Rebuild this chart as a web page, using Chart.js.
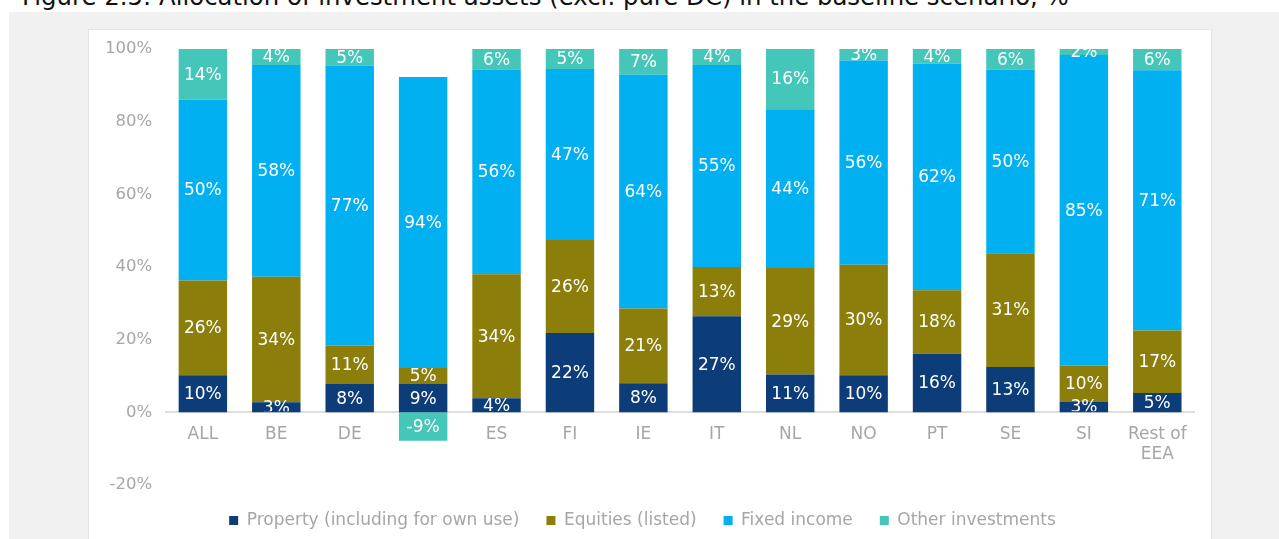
<!DOCTYPE html>
<html>
<head>
<meta charset="utf-8">
<script src="https://cdn.jsdelivr.net/npm/chart.js@4/dist/chart.umd.min.js"></script>
<style>
    html, body { margin: 0; padding: 0; width: 1279px; height: 539px; overflow: hidden; background: #fff; }
    #title { position: absolute; left: 22px; top: -17px; font: 24.4px 'DejaVu Sans', Verdana, sans-serif; color: #111; white-space: nowrap; line-height: 28px; }
    #panel { position: absolute; left: 9px; top: 12px; width: 1270px; height: 527px; background: #f1f1f1; }
    #box { position: absolute; left: 88px; top: 29px; width: 1124px; height: 526px; background: #fff; box-sizing: border-box; border: 1px solid #e6e6e6; }
    #chart { position: absolute; left: 88px; top: 25px; }
</style>
</head>
<body>
<div id="title">Figure 2.5: Allocation of investment assets (excl. pure DC) in the baseline scenario, %</div>
<div id="panel"></div>
<div id="box"></div>
<canvas id="chart" width="1124" height="514"></canvas>
<script>
const categories = ['ALL', 'BE', 'DE', 'DK', 'ES', 'FI', 'IE', 'IT', 'NL', 'NO', 'PT', 'SE', 'SI', ['Rest of', 'EEA']];

// bar heights (%)
const property = [10.2, 2.8, 7.8, 7.8, 3.9, 21.8, 8.0, 26.4, 10.4, 10.2, 16.1, 12.5, 3.0, 5.3];
const equities = [26.1, 34.5, 10.6, 4.4, 34.1, 25.6, 20.6, 13.6, 29.3, 30.4, 17.5, 31.3, 9.9, 17.2];
const fixedIncome = [49.8, 58.3, 77.0, 80.1, 56.3, 47.1, 64.3, 55.6, 43.7, 56.2, 62.4, 50.5, 85.4, 71.6];
const other = [13.9, 4.4, 4.6, -7.8, 5.7, 5.5, 7.1, 4.4, 16.6, 3.2, 4.0, 5.7, 1.7, 5.9];

// printed labels (as shown on the bars)
const propertyLabels = ['10%', '3%', '8%', '9%', '4%', '22%', '8%', '27%', '11%', '10%', '16%', '13%', '3%', '5%'];
const equitiesLabels = ['26%', '34%', '11%', '5%', '34%', '26%', '21%', '13%', '29%', '30%', '18%', '31%', '10%', '17%'];
const fixedLabels = ['50%', '58%', '77%', '94%', '56%', '47%', '64%', '55%', '44%', '56%', '62%', '50%', '85%', '71%'];
const otherLabels = ['14%', '4%', '5%', '-9%', '6%', '5%', '7%', '4%', '16%', '3%', '4%', '6%', '2%', '6%'];

const yTicks = [-20, 0, 20, 40, 60, 80, 100];

const FONT = "'DejaVu Sans', Verdana, sans-serif";
const GREY = '#a6a6a6';

// white labels in the middle of each segment
const segmentLabels = {
    id: 'segmentLabels',
    afterDatasetsDraw(chart) {
        const ctx = chart.ctx;
        const area = chart.chartArea;
        const y0 = chart.scales.y.getPixelForValue(0);
        ctx.save();
        ctx.font = '17px ' + FONT;
        ctx.fillStyle = '#fff';
        ctx.textAlign = 'center';
        ctx.textBaseline = 'middle';
        chart.data.datasets.forEach((ds, i) => {
            const meta = chart.getDatasetMeta(i);
            meta.data.forEach((bar, j) => {
                const v = ds.data[j];
                ctx.save();
                ctx.beginPath();
                if (v >= 0) ctx.rect(area.left, area.top, area.right - area.left, y0 - area.top - 1);
                else ctx.rect(area.left, y0, area.right - area.left, area.bottom - y0);
                ctx.clip();
                ctx.fillText(ds.labels[j], bar.x, (bar.y + bar.base) / 2 + 1);
                ctx.restore();
            });
        });
        ctx.restore();
    }
};

new Chart(document.getElementById('chart'), {
    type: 'bar',
    data: {
        labels: categories,
        datasets: [
            { label: 'Property (including for own use)', data: property, labels: propertyLabels, backgroundColor: '#0c3d78' },
            { label: 'Equities (listed)', data: equities, labels: equitiesLabels, backgroundColor: '#8b7e0b' },
            { label: 'Fixed income', data: fixedIncome, labels: fixedLabels, backgroundColor: '#00b0f0' },
            { label: 'Other investments', data: other, labels: otherLabels, backgroundColor: '#44c6b8' }
        ]
    },
    options: {
        responsive: false,
        animation: false,
        datasets: { bar: { barPercentage: 0.66, categoryPercentage: 1 } },
        layout: { padding: { left: 3, right: 18, top: 16, bottom: 0 } },
        plugins: {
            tooltip: { enabled: false },
            legend: {
                position: 'bottom',
                labels: {
                    boxWidth: 9,
                    boxHeight: 9,
                    padding: 27,
                    color: GREY,
                    font: { family: FONT, size: 17 }
                }
            }
        },
        scales: {
            x: {
                stacked: true,
                position: { y: 0 },
                z: 1,
                grid: { display: false, drawTicks: false },
                border: { display: true, color: '#dedede', width: 2 },
                ticks: { color: GREY, font: { family: FONT, size: 17 }, padding: 12, maxRotation: 0, autoSkip: false }
            },
            y: {
                stacked: true,
                min: -20,
                max: 100,
                afterBuildTicks: axis => { axis.ticks = yTicks.map(v => ({ value: v })); },
                grid: { display: false, drawTicks: false },
                border: { display: false },
                ticks: { color: GREY, font: { family: FONT, size: 16.5 }, padding: 14, callback: v => v + '%' }
            }
        }
    },
    plugins: [segmentLabels]
});
</script>
</body>
</html>
